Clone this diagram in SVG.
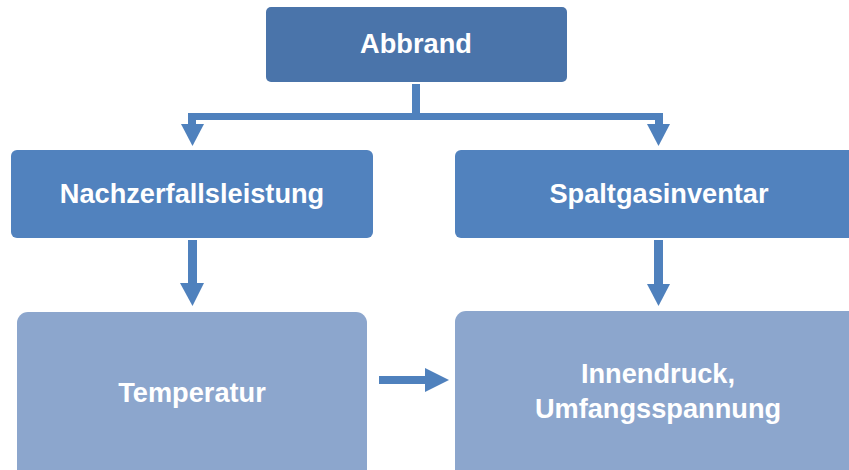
<svg xmlns="http://www.w3.org/2000/svg" width="849" height="470" viewBox="0 0 849 470">
<style>
.t{font-family:"Liberation Sans",Arial,sans-serif;font-weight:bold;font-size:27.2px;fill:#fff;text-anchor:middle}
.c{fill:#4f81bd}
</style>
<rect width="849" height="470" fill="#fff"/>
<g id="connectors">
<rect class="c" x="412" y="84" width="8" height="34"/>
<rect class="c" x="188" y="113" width="475" height="7"/>
<rect class="c" x="188" y="113" width="8" height="16"/>
<rect class="c" x="655" y="113" width="8" height="16"/>
<polygon class="c" points="181,124 204,124 192.5,146"/>
<polygon class="c" points="647,124 670,124 658.5,146"/>
<rect class="c" x="188" y="240" width="9" height="44"/>
<polygon class="c" points="180,283 204,283 192.5,306"/>
<rect class="c" x="654" y="240" width="9" height="45"/>
<polygon class="c" points="647,284 670,284 658.5,306"/>
<rect class="c" x="379" y="376" width="47" height="8"/>
<polygon class="c" points="425,368 449,380 425,392"/>
</g>
<g id="abbrand">
<rect x="266" y="7" width="301" height="75" rx="5" fill="#4a74aa"/>
<text class="t" x="416" y="53">Abbrand</text>
</g>
<g id="nachzerfallsleistung">
<rect x="11" y="150" width="362" height="88" rx="6" fill="#5182be"/>
<text class="t" x="192" y="203">Nachzerfallsleistung</text>
</g>
<g id="spaltgasinventar">
<rect x="455" y="150" width="404" height="88" rx="6" fill="#5182be"/>
<text class="t" x="659" y="203">Spaltgasinventar</text>
</g>
<g id="temperatur">
<rect x="17" y="312" width="350" height="170" rx="11" fill="#8ca6cd"/>
<text class="t" x="192" y="402">Temperatur</text>
</g>
<g id="innendruck">
<rect x="455" y="311" width="404" height="170" rx="11" fill="#8ca6cd"/>
<text class="t" x="658" y="383">Innendruck,</text>
<text class="t" x="658" y="418">Umfangsspannung</text>
</g>
</svg>
